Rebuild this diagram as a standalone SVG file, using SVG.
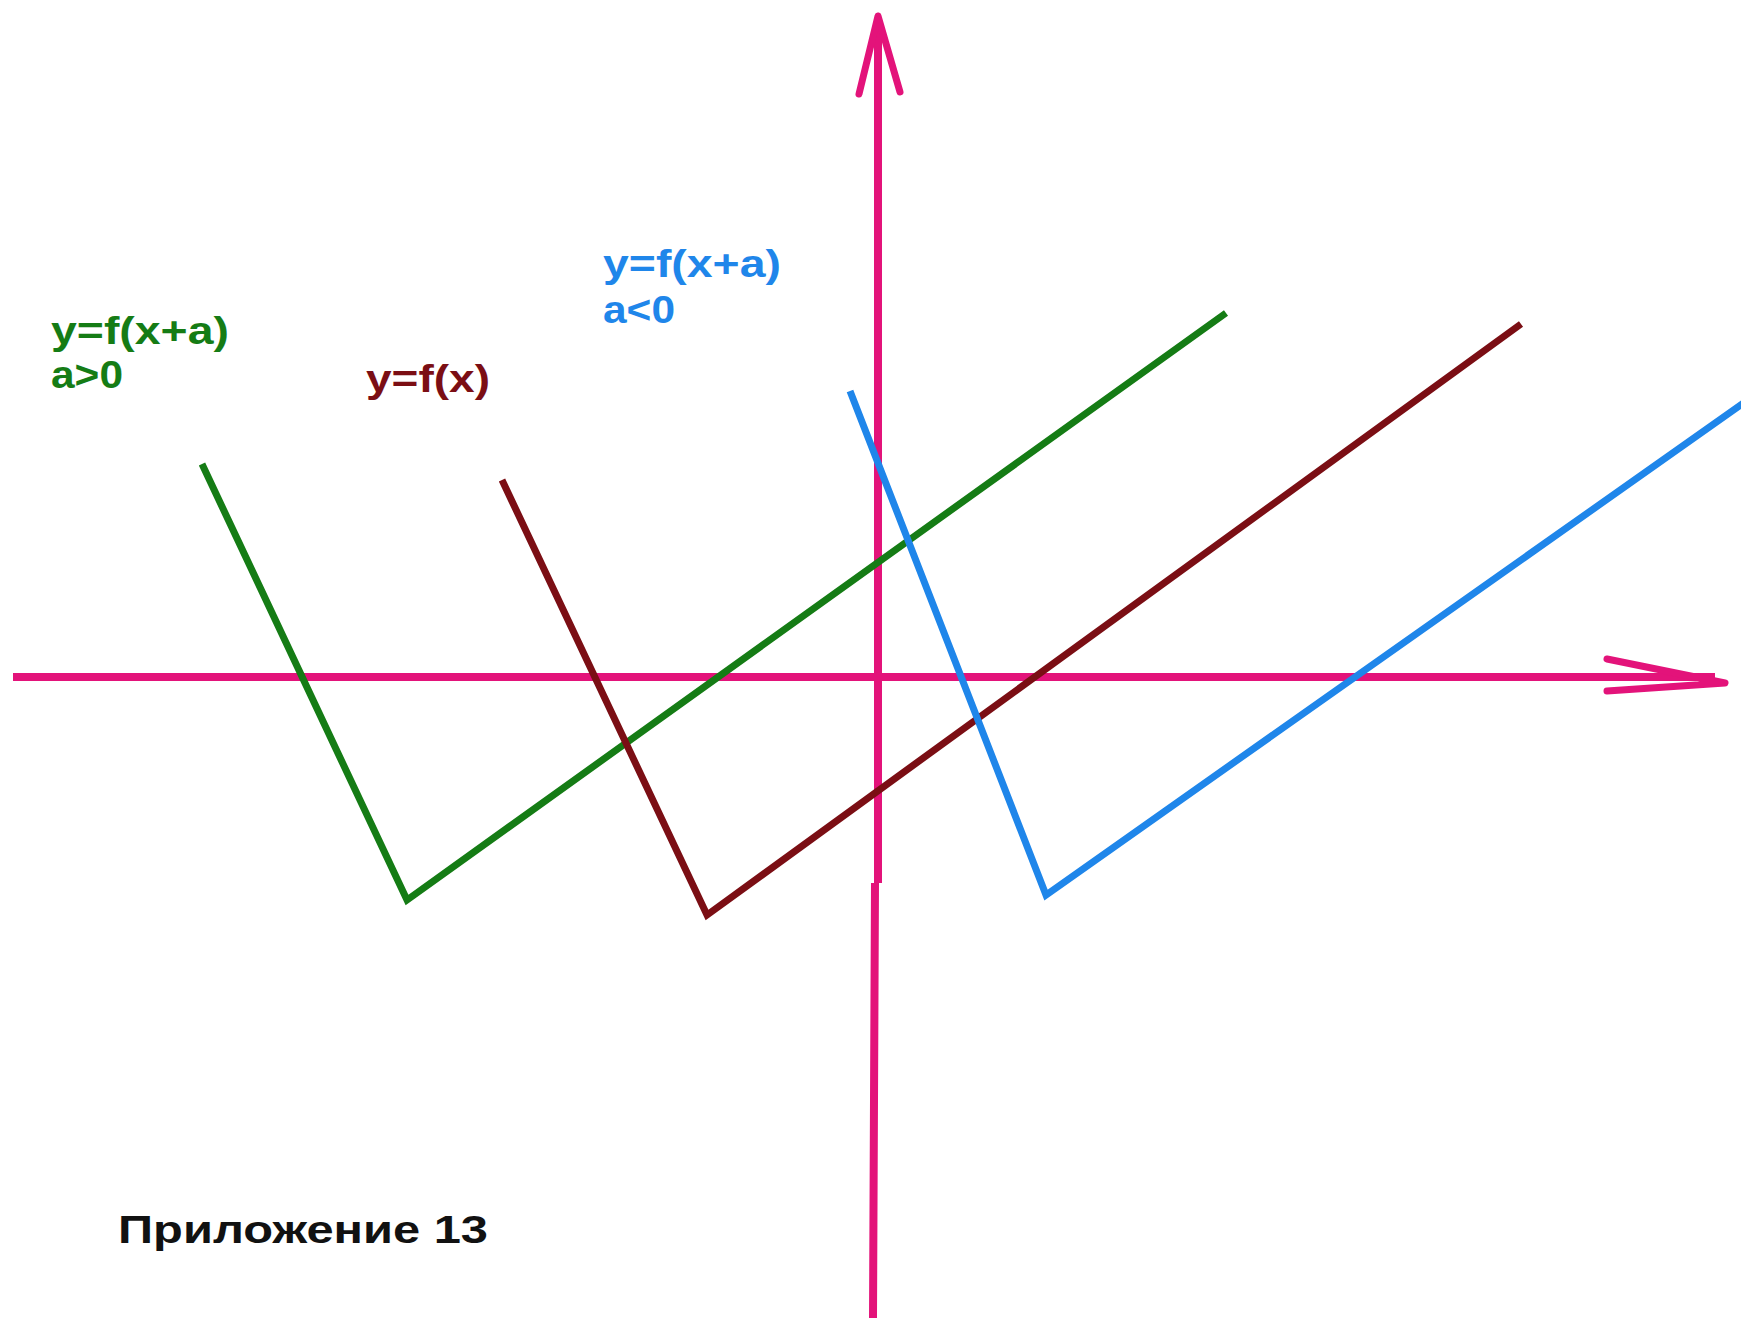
<svg xmlns="http://www.w3.org/2000/svg" width="1741" height="1321" viewBox="0 0 1741 1321">
<style>
.ax{stroke:#e3137a;stroke-width:8;fill:none;stroke-linejoin:miter;stroke-linecap:butt}
.head{stroke:#e3137a;stroke-width:7;fill:none;stroke-linejoin:round;stroke-linecap:round}
.g{stroke:#157c15;stroke-width:7;fill:none;stroke-linejoin:miter}
.b{stroke:#7b0e14;stroke-width:7;fill:none;stroke-linejoin:miter}
.bl{stroke:#1f86ea;stroke-width:7;fill:none;stroke-linejoin:miter}
text{font-family:"Liberation Sans",Arial,sans-serif;font-weight:bold;font-size:39px}
</style>
<rect width="1741" height="1321" fill="#ffffff"/>
<g id="connectors">
<g id="y-axis">
<path class="ax" d="M878 883 L878 24 M875 883 L873 1318"/>
<path class="head" d="M859 94 L878 16 L900 92"/>
</g>
<g id="x-axis">
<path class="ax" d="M13 677 L1715 677"/>
<path class="head" d="M1607 659 L1725 683 L1607 691" stroke-width="6"/>
</g>
</g>
<g id="graph-green">
<polyline class="g" points="202,464 407,900 1226,313"/>
</g>
<g id="graph-brown">
<polyline class="b" points="502,480 707,915 1521,324"/>
</g>
<g id="graph-blue">
<polyline class="bl" points="850,391 1046,895 1745,402"/>
</g>
<g id="label-green" fill="#157c15">
<text x="51" y="344" textLength="178" lengthAdjust="spacingAndGlyphs">y=f(x+a)</text>
<text x="51" y="388" textLength="72" lengthAdjust="spacingAndGlyphs">a&gt;0</text>
</g>
<g id="label-blue" fill="#1f86ea">
<text x="603" y="277" textLength="178" lengthAdjust="spacingAndGlyphs">y=f(x+a)</text>
<text x="603" y="323" textLength="72" lengthAdjust="spacingAndGlyphs">a&lt;0</text>
</g>
<g id="label-brown" fill="#7b0e14">
<text x="366" y="392" textLength="124" lengthAdjust="spacingAndGlyphs">y=f(x)</text>
</g>
<g id="caption" fill="#111111">
<text x="118" y="1243" font-size="41" textLength="370" lengthAdjust="spacingAndGlyphs">Приложение 13</text>
</g>
</svg>
